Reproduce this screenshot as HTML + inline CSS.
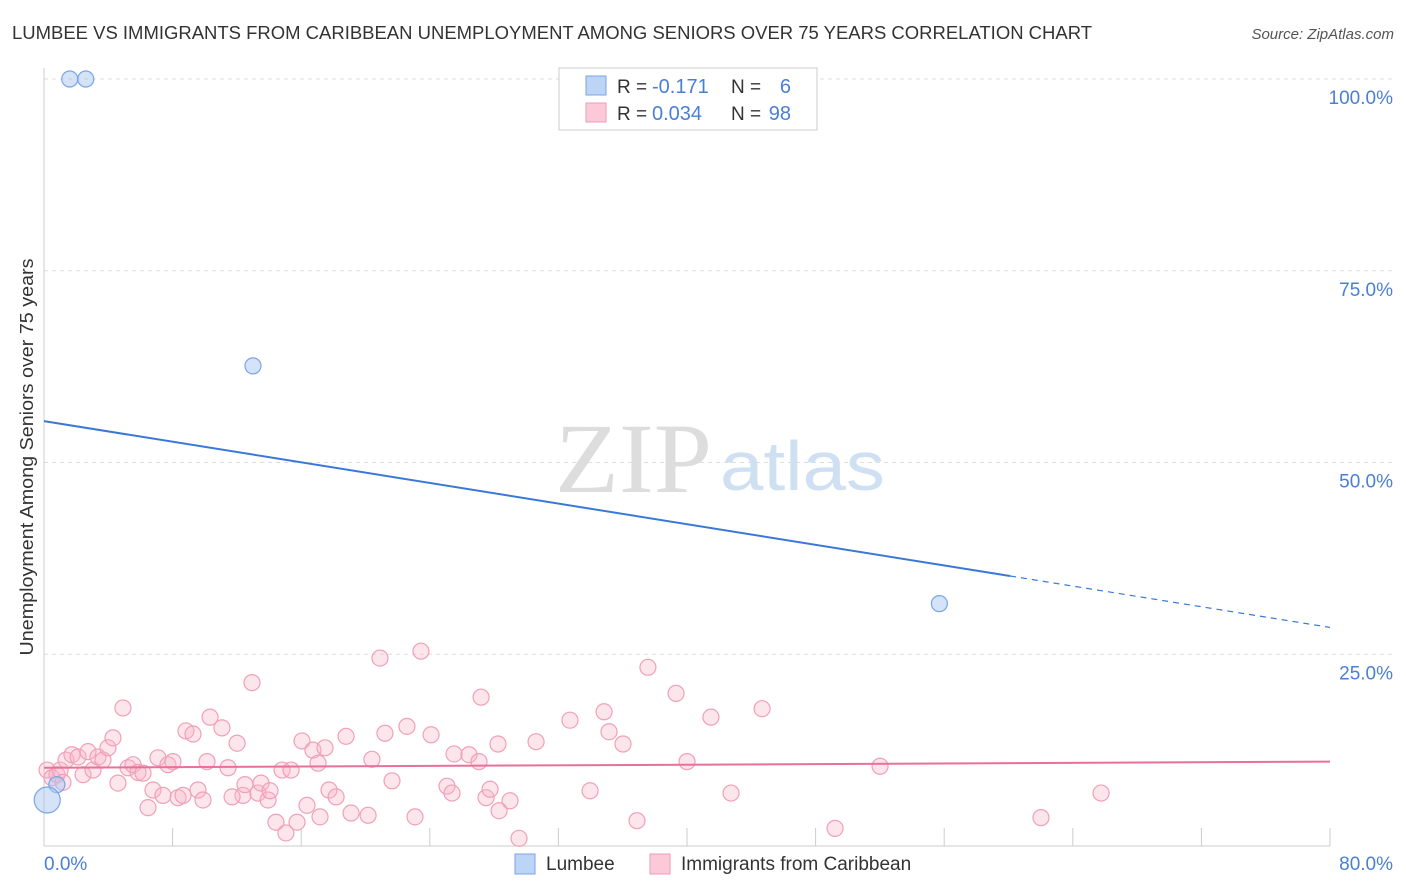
<!DOCTYPE html>
<html><head><meta charset="utf-8"><style>
body{margin:0;background:#fff;font-family:"Liberation Sans",sans-serif;}
svg{display:block}
</style></head><body>
<svg width="1406" height="892" xmlns="http://www.w3.org/2000/svg">
<text x="12" y="39" font-size="18" fill="#333" textLength="1080" lengthAdjust="spacingAndGlyphs">LUMBEE VS IMMIGRANTS FROM CARIBBEAN UNEMPLOYMENT AMONG SENIORS OVER 75 YEARS CORRELATION CHART</text>
<text x="1394" y="39" font-size="15" fill="#555" font-style="italic" text-anchor="end">Source: ZipAtlas.com</text>
<g id="grid"></g>
<g id="xticks"></g>
<line x1="44" y1="68" x2="44" y2="846" stroke="#ccc"/>
<line x1="44" y1="846" x2="1330" y2="846" stroke="#ccc"/>
<text x="555" y="492" font-size="100" fill="#ddd" font-family="Liberation Serif,serif" textLength="157" lengthAdjust="spacingAndGlyphs">ZIP</text>
<text x="720" y="490" font-size="70" fill="#cfe0f3" textLength="165" lengthAdjust="spacingAndGlyphs">atlas</text>
<g id="ylabels"></g>
<text x="44" y="870" font-size="19" fill="#4a7fd6">0.0%</text>
<text x="1393" y="870" font-size="19" fill="#4a7fd6" text-anchor="end">80.0%</text>
<text transform="translate(33,457) rotate(-90)" font-size="18" fill="#333" text-anchor="middle" textLength="397" lengthAdjust="spacingAndGlyphs">Unemployment Among Seniors over 75 years</text>
<g id="pink"></g>
<g id="blue"></g>
<g id="lines"></g>
<g>
<rect x="559" y="68" width="258" height="62" fill="#fff" stroke="#ccc"/>
<rect x="586" y="76" width="20" height="19" fill="#bcd4f5" stroke="#7aa5e6"/>
<rect x="586" y="103" width="20" height="19" fill="#fbc9d8" stroke="#f09ab5"/>
<text x="617" y="93" font-size="19" fill="#333">R =</text>
<text x="652" y="93" font-size="20" fill="#4a7fd6">-0.171</text>
<text x="731" y="93" font-size="19" fill="#333">N =</text>
<text x="791" y="93" font-size="20" fill="#4a7fd6" text-anchor="end">6</text>
<text x="617" y="120" font-size="19" fill="#333">R =</text>
<text x="652" y="120" font-size="20" fill="#4a7fd6">0.034</text>
<text x="731" y="120" font-size="19" fill="#333">N =</text>
<text x="791" y="120" font-size="20" fill="#4a7fd6" text-anchor="end">98</text>
</g>
<g>
<rect x="515" y="854" width="20" height="20" fill="#bcd4f5" stroke="#7aa5e6"/>
<text x="546" y="870" font-size="19" fill="#333">Lumbee</text>
<rect x="650" y="854" width="20" height="20" fill="#fbc9d8" stroke="#f09ab5"/>
<text x="681" y="870" font-size="19" fill="#333">Immigrants from Caribbean</text>
</g>
</svg>
<script>
const yTicks=[25,50,75,100];
const yTickLabels=["25.0%","50.0%","75.0%","100.0%"];
const xTicks=[0,8,16,24,32,40,48,56,64,72,80];
const blueX=[1.6,2.6,13.0,55.7,0.8,0.2];
const blueY=[100,100,62.6,31.6,8.0,6.0];
const blueR=[8,8,8,8,8,13];
const pinkX=[0.19,0.5,0.81,1.0,1.18,1.37,1.74,2.12,2.43,2.74,3.05,3.36,3.67,3.98,4.29,4.6,4.91,5.23,5.54,5.85,6.16,6.47,6.78,7.09,7.4,7.71,8.02,8.34,8.65,8.83,9.27,
9.58,9.89,10.14,10.33,11.07,11.45,12.01,12.38,11.70,12.50,12.94,13.31,13.50,13.94,14.06,14.43,14.81,15.05,15.37,15.74,16.05,16.36,16.73,17.05,17.17,17.48,17.73,18.17,18.79,19.10,20.16,20.40,20.90,21.21,21.65,22.58,23.08,23.45,24.08,25.07,25.38,25.51,26.44,27.06,27.19,27.50,27.75,28.24,28.31,28.99,29.55,30.61,32.72,33.97,34.84,35.15,36.02,36.89,37.57,39.32,40.00,41.49,42.74,44.67,49.21,52.01,62.02,65.76];
const pinkY=[9.9,8.9,9.3,9.9,8.3,11.2,11.9,11.6,9.3,12.3,9.9,11.6,11.2,12.8,14.1,8.2,18.0,10.2,10.6,9.6,9.5,5.0,7.3,11.5,6.6,10.6,11.0,6.3,6.6,15.0,14.6,
7.3,6.0,11.0,16.8,15.4,10.2,13.4,6.6,6.4,8.0,21.3,6.9,8.2,6.0,7.2,3.1,9.9,1.7,9.9,3.1,13.7,5.3,12.5,10.8,3.8,12.8,7.3,6.4,14.3,4.3,4.0,11.3,24.5,14.7,8.5,15.6,3.8,25.4,14.5,7.8,6.9,12.0,11.9,11.0,19.4,6.3,7.4,13.3,4.6,5.9,1.0,13.6,16.4,7.2,17.5,14.9,13.3,3.3,23.3,19.9,11.0,16.8,6.9,17.9,2.3,10.4,3.7,6.9];
const blueLine=[[0,55.4],[60.1,35.2]];
const blueDash=[[60.1,35.2],[80,28.5]];
const pinkLine=[[0,10.2],[80,11.0]];
const NS="http://www.w3.org/2000/svg";
const X=v=>44+v/80*1286, Y=v=>846-v/100*767;
function mk(t,a,p){const e=document.createElementNS(NS,t);for(const k in a)e.setAttribute(k,a[k]);p.appendChild(e);return e;}
const grid=document.getElementById('grid'),yl=document.getElementById('ylabels');
yTicks.forEach((t,i)=>{
 const l=mk('line',{x1:44,x2:1394,y1:Y(t),y2:Y(t),stroke:'#ddd','stroke-dasharray':'4,4'},grid);
 
 
 const tx=mk('text',{x:1393,y:Y(t)+25,'font-size':19,fill:'#4a7fd6','text-anchor':'end'},yl);
 tx.textContent=yTickLabels[i];
 
 
});
const xt=document.getElementById('xticks');
xTicks.forEach(t=>{
 const l=mk('line',{x1:X(t),x2:X(t),y1:828,y2:846,stroke:'#ccc'},xt);
 
 
});
const pg=document.getElementById('pink');
pinkX.forEach((x,i)=>{
 const c=mk('circle',{cx:X(x),cy:Y(pinkY[i]),r:8,fill:'rgba(248,180,200,0.35)',stroke:'#f0a0b8','stroke-width':1.2},pg);
 
 
});
const bg=document.getElementById('blue');
blueX.forEach((x,i)=>{
 const c=mk('circle',{cx:X(x),cy:Y(blueY[i]),r:blueR[i],fill:'rgba(170,200,240,0.5)',stroke:'#7aa5e6','stroke-width':1.2},bg);
 
 
});
const lg=document.getElementById('lines');
function ln(p,col,w,dash){const a={x1:X(p[0][0]),y1:Y(p[0][1]),x2:X(p[1][0]),y2:Y(p[1][1]),stroke:col,'stroke-width':w};if(dash)a['stroke-dasharray']=dash;return mk('line',a,lg);}
const l1=ln(blueLine,'#3a78d8',2);


const l2=ln(blueDash,'#3a78d8',1.2,'6,5');


const l3=ln(pinkLine,'#e8709a',2);


</script>
</body></html>
